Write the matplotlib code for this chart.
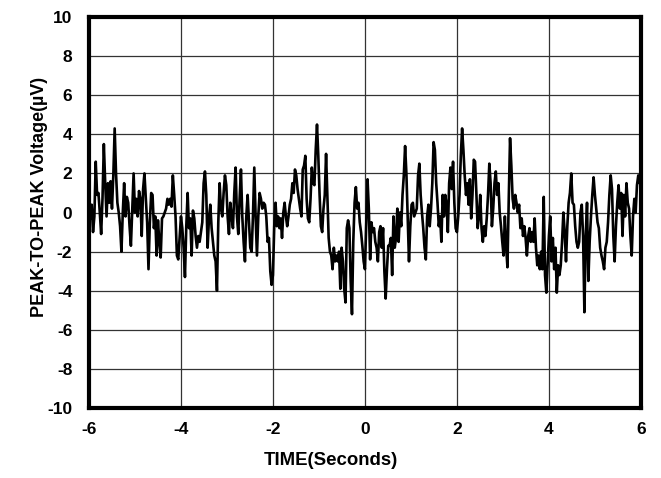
import numpy as np
import matplotlib
matplotlib.use("Agg")
import matplotlib.pyplot as plt

# Peak-to-peak noise trace (µV) in 2-second windows
win_m6_m4 = [0.0, -0.3, 0.4, -1.0, -0.2, 2.6, 0.9, 1.0, 0.0, -1.1,
             0.7, 3.5, 1.5, -0.2, 1.5, 0.5, 1.6, 0.2, 1.9, 4.3,
             2.0, 0.5, 0.0, -0.7, -2.0, 0.0, 1.5, -0.2, 0.8, 0.5,
             -0.7, -1.7, 0.2, 2.0, 0.0, 0.7, -0.2, 1.1, 0.7, -1.2,
             1.2, 2.0, 0.7, -0.5, -2.9, -0.5, 1.0, 0.9, -0.8, -0.2,
             -2.2, -0.4, -1.5, -2.3, -0.3, -0.2, 0.0, 0.2, 0.7, 0.4,
             0.7, 0.3, 1.9, 0.9, -0.2, -2.2, -2.4, -1.3]
win_m4_m2 = [-0.2, -0.8, -1.8, -3.3, -0.7, 1.0, -0.8, -0.3, -2.2, 0.1,
             -0.3, -1.2, -1.8, -1.2, -1.5, -1.0, -0.5, 1.5, 2.1, 0.9,
             -1.8, -0.3, 0.4, -0.8, -1.5, -2.2, -2.5, -4.0, -0.5, 1.5,
             0.2, -0.2, 1.0, 1.9, 1.4, -0.2, -1.1, 0.5, -0.2, -0.8,
             1.0, 2.3, -0.2, -1.1, 0.7, 2.2, -0.2, -1.5, -2.5, -0.2,
             0.9, -0.5, -1.8, -2.0, -0.2, 2.3, -0.2, -2.2, -0.2, 1.0,
             0.7, 0.2, 0.5, 0.4, -0.2, -1.5, -1.3, -3.0, -3.7]
win_m2_0 = [-3.2, -0.7, 0.5, -0.7, -0.2, -0.8, -0.3, -1.3, 0.0, 0.5,
            -0.2, -0.7, -0.2, 0.4, 0.7, 1.5, 1.0, 2.2, 1.9, 1.2,
            0.7, 0.2, -0.2, 2.2, 2.4, 2.9, 0.7, -0.3, -0.5, 0.7,
            2.3, 1.5, 1.4, 3.2, 4.5, 2.9, 0.9, -0.7, -1.0, 0.2,
            0.9, 3.0, 0.9, -1.3, -2.0, -2.2, -2.9, -1.8, -2.5, -2.2,
            -2.5, -2.0, -3.9, -1.8, -2.5, -3.9, -4.6, -0.8, -0.4, -0.8,
            -3.5, -5.2, -1.5, 0.5, 1.3, 0.2, 0.5, -0.5, -1.0, -1.7,
            -2.5]
win_0_2 = [-2.9, -0.5, 1.7, 0.2, -2.4, -0.5, -1.0, -0.8, -1.5, -1.8,
           -2.5, -1.0, -0.7, -1.8, -0.8, -3.0, -4.4, -2.9, -1.7, -1.7,
           -1.3, -3.2, -0.2, -1.8, -1.3, 0.2, -1.5, 0.0, -0.7, 0.9,
           1.9, 3.4, 2.0, -0.2, -2.5, -0.7, 0.4, 0.5, -0.2, 0.0,
           0.2, 1.9, 2.5, 0.9, 0.0, -0.8, -1.8, -2.4, -0.2, 0.4,
           -0.7, 0.2, 1.5, 3.6, 3.2, 1.5, 0.5, -0.7, -0.2, -1.5,
           0.9, -0.2, 0.9, 0.4, -1.0, 1.5, 2.3, 1.2, 2.6, 0.5,
           -0.8]
win_2_4 = [-1.0, -0.2, 0.9, 2.9, 4.3, 3.2, 1.9, 0.9, 1.5, 0.4,
           1.7, -0.3, 0.9, 2.7, 2.6, 1.0, -0.8, -0.2, 0.9, -0.8,
           -1.5, -0.7, -1.2, -0.3, 0.9, 2.5, 1.5, -0.7, 0.2, 1.5,
           2.1, 0.9, 1.5, 0.0, -0.7, -1.5, -2.2, -0.2, -1.8, -2.8,
           0.7, 3.8, 2.4, 0.7, 0.2, 0.9, 0.5, 0.0, 0.4, -0.8,
           -0.3, -1.2, -0.7, -1.3, -2.2, -1.2, -0.8, -1.5, -1.0, -1.5,
           -0.3, -1.8, -2.7, -2.2, -2.9, -2.0, -2.9, 0.8, -3.2, -4.1,
           -2.7]
win_4_6 = [-1.2, -0.2, -2.5, -1.3, -2.9, -1.8, -4.1, -2.7, -3.2, -2.7,
           -1.5, 0.0, -1.0, -2.5, -0.7, 0.5, 1.0, 2.0, 0.5, 0.4,
           -0.7, -1.5, -1.8, -1.5, 0.0, 0.4, -1.2, -5.1, -1.2, 0.5,
           -3.5, -1.5, -0.2, 0.9, 1.8, 0.9, 0.2, -0.5, -0.8, -1.8,
           -2.2, -2.5, -2.9, -1.8, -1.5, -0.5, 0.9, 1.9, 1.2, -1.2,
           -2.5, -0.7, 0.5, 1.4, 0.2, 1.0, -1.2, 0.9, -0.2, 1.5,
           0.5, 0.2, -1.2, -2.2, -0.2, 0.7, 0.0, 1.4, 1.9, 1.5,
           2.0]

windows = [(-6, -4, win_m6_m4), (-4, -2, win_m4_m2), (-2, 0, win_m2_0),
           (0, 2, win_0_2), (2, 4, win_2_4), (4, 6, win_4_6)]

x_ticks = [-6, -4, -2, 0, 2, 4, 6]
y_ticks = [-10, -8, -6, -4, -2, 0, 2, 4, 6, 8, 10]

# build the time axis window by window
t_parts, v_parts = [], []
for i, (a, b, vals) in enumerate(windows):
    last = i == len(windows) - 1
    t_parts.append(np.linspace(a, b, len(vals), endpoint=last))
    v_parts.append(np.asarray(vals))
time = np.concatenate(t_parts)
voltage = np.concatenate(v_parts)

plt.rcParams["font.family"] = ["Liberation Sans", "DejaVu Sans"]
plt.rcParams["axes.unicode_minus"] = False

fig = plt.figure(figsize=(6.61, 4.78), dpi=100)
ax = fig.add_axes([0.1346, 0.1464, 0.835, 0.818])

ax.plot(time, voltage, color="black", linewidth=1.9, zorder=3)

ax.set_xlim(-6, 6)
ax.set_ylim(-10, 10)
ax.set_xticks(x_ticks)
ax.set_yticks(y_ticks)
ax.grid(True, color="#333333", linewidth=0.9)
ax.tick_params(length=0, labelsize=12.5)
ax.tick_params(axis="y", pad=12)
ax.tick_params(axis="x", pad=10)
for lab in ax.get_xticklabels() + ax.get_yticklabels():
    lab.set_fontweight("bold")

for s in ax.spines.values():
    s.set_linewidth(3)
    s.set_color("black")

ax.set_xlabel("TIME(Seconds)", fontsize=13.4, fontweight="bold")
ax.xaxis.set_label_coords(0.439, -0.112)
ax.set_ylabel("PEAK-TO-PEAK Voltage(µV)", fontsize=13, fontweight="bold")
ax.yaxis.set_label_coords(-0.074, 0.54)

fig.savefig("out.png", dpi=100)
